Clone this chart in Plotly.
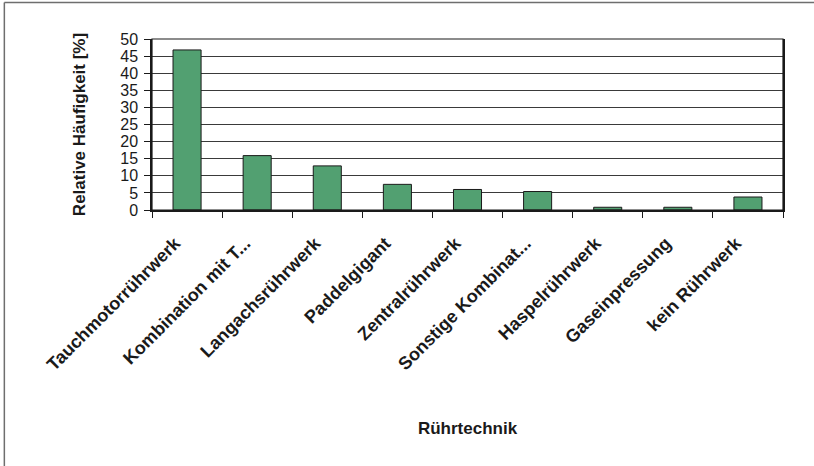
import plotly.graph_objects as go

# Stirring technique categories and relative frequency (%)
categories = [
    "Tauchmotorrührwerk",
    "Kombination mit T...",
    "Langachsrührwerk",
    "Paddelgigant",
    "Zentralrührwerk",
    "Sonstige Kombinat...",
    "Haspelrührwerk",
    "Gaseinpressung",
    "kein Rührwerk",
]
values = [46.8, 15.9, 12.9, 7.5, 6.0, 5.4, 0.8, 0.8, 3.8]
y_ticks = [0, 5, 10, 15, 20, 25, 30, 35, 40, 45, 50]

FONT = "Liberation Sans, Arial, sans-serif"
BAR_GREEN = "#52a071"
FRAME = dict(color="#6e6e6e", width=1.5)

fig = go.Figure(
    go.Bar(
        x=categories,
        y=values,
        marker=dict(color=BAR_GREEN, line=dict(color="#1a1a1a", width=1)),
        hoverinfo="x+y",
    )
)

fig.update_layout(
    width=814,
    height=466,
    margin=dict(l=152, r=31, t=39, b=256),
    paper_bgcolor="white",
    plot_bgcolor="white",
    bargap=0.6,
    showlegend=False,
    font=dict(family=FONT, color="#1a1a1a"),
    shapes=[
        # outer chart frame: left and top edges (the rest runs off the page)
        dict(type="line", xref="paper", yref="paper",
             x0=-0.234, x1=-0.234, y0=-1.6, y1=1.2135, line=FRAME, layer="below"),
        dict(type="line", xref="paper", yref="paper",
             x0=-0.234, x1=1.2, y0=1.2135, y1=1.2135, line=FRAME, layer="below"),
    ],
)

fig.update_xaxes(
    type="category",
    showgrid=False,
    showline=True,
    linecolor="#1a1a1a",
    linewidth=1.5,
    mirror=False,
    ticks="outside",
    tickson="boundaries",
    ticklen=6,
    tickcolor="#1a1a1a",
    tickwidth=1,
    tickangle=-45,
    ticklabelstandoff=14,
    ticklabelshift=-12,
    tickfont=dict(family=FONT, size=18, color="#1a1a1a", weight="bold"),
    title=dict(
        text="<b>Rührtechnik</b>",
        font=dict(family=FONT, size=17, color="#1a1a1a"),
        standoff=48,
    ),
)

fig.update_yaxes(
    range=[0, 50],
    tickvals=y_ticks,
    showgrid=True,
    gridcolor="#3a3a3a",
    gridwidth=1.2,
    showline=True,
    linecolor="#1a1a1a",
    linewidth=1.5,
    mirror=True,
    ticks="outside",
    ticklen=6,
    tickcolor="#1a1a1a",
    ticklabelstandoff=3,
    tickfont=dict(family=FONT, size=16, color="#1a1a1a"),
    zeroline=False,
    title=dict(
        text="<b>Relative Häufigkeit [%]</b>",
        font=dict(family=FONT, size=17, color="#1a1a1a"),
        standoff=30,
    ),
)

# close the plot frame on the right and top
fig.add_shape(
    type="rect", xref="paper", yref="paper", x0=0, x1=1, y0=0, y1=1,
    line=dict(color="#1a1a1a", width=1.2), layer="above",
)

# keep the page free of margins and scrollbars
page_css = (
    "document.documentElement.style.overflow='hidden';"
    "document.body.style.margin='0';"
    "document.body.style.overflow='hidden';"
)

fig.write_html("out.html", post_script=page_css)
